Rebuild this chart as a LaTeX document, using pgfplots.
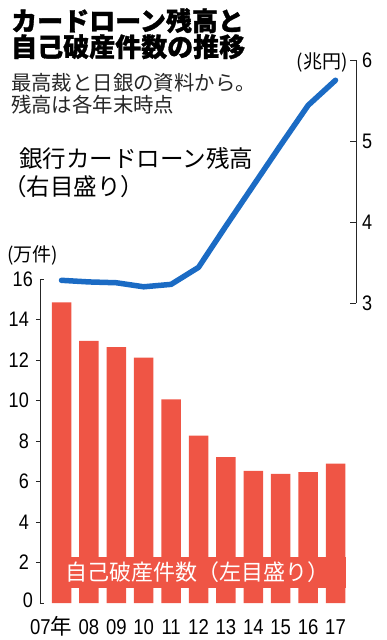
\documentclass[border=0pt]{standalone}
\usepackage{fontspec}
\setmainfont{Noto Sans CJK JP}[BoldFeatures={FakeBold=1.2}]
\newfontfamily\numf{Liberation Sans}[FakeStretch=0.86]
\usepackage{pgfplots}
\pgfplotsset{compat=1.18}
\definecolor{barred}{HTML}{EF5545}
\definecolor{lineblue}{HTML}{1B6BC4}
\begin{document}
\begin{tikzpicture}[x=1pt,y=1pt]
\useasboundingbox (0,0) rectangle (387,640);
% ---- bars: self-bankruptcy cases (left axis, 10k cases)
\begin{axis}[
  at={(40pt,37pt)}, anchor=south west, scale only axis,
  width=316pt, height=324pt,
  xmin=-0.785, xmax=10.748, ymin=0, ymax=16,
  axis y line*=left, axis x line*=bottom,
  x axis line style={draw=none},
  y axis line style={line width=0.9pt, draw=black!85, -},
  xtick={0,...,10},
  xticklabels={{\llap{07}{\rmfamily 年}},08,09,10,11,12,13,14,15,16,17},
  major x tick style={draw=none},
  xticklabel style={font=\numf\fontsize{21.5}{21.5}\selectfont, anchor=base, inner sep=0pt, yshift=-27pt},
  ytick={2,4,...,14},
  major y tick style={line width=0.9pt, draw=black!85},
  tick align=outside, major tick length=4pt,
  extra y ticks={0,16},
  extra y tick labels={{\raisebox{5pt}{0}},16},
  extra y tick style={tick align=inside},
  yticklabel style={font=\numf\fontsize{21}{21}\selectfont, anchor=east, inner sep=0pt, xshift=-7pt},
  /pgf/number format/assume math mode=true,
  clip=false,
]
\addplot[ybar, bar width=19.5pt, fill=barred, draw=none] coordinates {
  (0,14.85) (1,12.95) (2,12.63) (3,12.12) (4,10.05) (5,8.27)
  (6,7.20) (7,6.52) (8,6.38) (9,6.46) (10,6.88)
};
\end{axis}
% ---- line: bank card loan balance (right axis, trillion yen)
\begin{axis}[
  at={(40pt,337pt)}, anchor=south west, scale only axis,
  width=316pt, height=243pt,
  xmin=-0.785, xmax=10.748, ymin=3, ymax=6,
  axis y line*=right, axis x line=none,
  y axis line style={line width=0.9pt, draw=black!85, -},
  ytick={3,4,5,6},
  major y tick style={line width=0.9pt, draw=black!85},
  tick align=inside, major tick length=6pt,
  yticklabel style={font=\numf\fontsize{21}{21}\selectfont, anchor=west, inner sep=0pt, xshift=6pt},
  /pgf/number format/assume math mode=true,
  clip=false,
]
\addplot[lineblue, line width=5.5pt, line cap=round, line join=round] coordinates {
  (0,3.28) (1,3.26) (2,3.25) (3,3.20) (4,3.23) (5,3.44)
  (6,3.95) (7,4.45) (8,4.95) (9,5.44) (10,5.75)
};
\end{axis}
% ---- texts
\node[anchor=base west, inner sep=0pt, font=\fontsize{26}{26}\selectfont\bfseries] at (11,609.3) {カードローン残高と};
\node[anchor=base west, inner sep=0pt, font=\fontsize{26}{26}\selectfont\bfseries] at (11,583.4) {自己破産件数の推移};
\node[anchor=base west, inner sep=0pt, font=\fontsize{20.4}{20.4}\selectfont, text=black!85] at (11,549.8) {最高裁と日銀の資料から。};
\node[anchor=base west, inner sep=0pt, font=\fontsize{20.4}{20.4}\selectfont, text=black!85] at (11,527.2) {残高は各年末時点};
\node[anchor=base west, inner sep=0pt, font=\fontsize{23.5}{23.5}\selectfont] at (19,472) {銀行カードローン残高};
\node[anchor=base west, inner sep=0pt, font=\fontsize{23.5}{23.5}\selectfont] at (3,444) {（右目盛り）};
\node[anchor=base west, inner sep=0pt, font=\fontsize{19}{19}\selectfont] at (7,378.8) {(万件)};
\node[anchor=base east, inner sep=0pt, font=\fontsize{19}{19}\selectfont] at (348,571.8) {(兆円)};
\fill[barred] (52,52) rectangle (346,83);
\node[anchor=base, inner sep=0pt, text=white, font=\fontsize{22}{22}\selectfont] at (197.5,59.6) {自己破産件数（左目盛り）};
\end{tikzpicture}
\end{document}
